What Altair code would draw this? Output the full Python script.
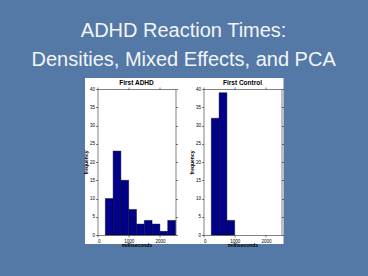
import altair as alt
import pandas as pd

title_lines = ["ADHD Reaction Times:", "Densities, Mixed Effects, and PCA"]
panel_titles = ["First ADHD", "First Control"]
bin_width = 250
adhd_bin_starts = [250, 500, 750, 1000, 1250, 1500, 1750, 2000, 2250]
adhd_counts = [10, 23, 15, 7, 3, 4, 3, 1, 4]
control_bin_starts = [250, 500, 750]
control_counts = [32, 39, 4]
x_ticks = [0, 1000, 2000]
y_ticks = [0, 5, 10, 15, 20, 25, 30, 35, 40]

W, H = 78, 146
BAR = "#000088"

xs = alt.Scale(domain=[0, 2500], nice=False)
ys = alt.Scale(domain=[0, 40], nice=False)


def panel(name, starts, counts, bg_x, bg_x2):
    df = pd.DataFrame({"start": starts,
                       "end": [s + bin_width for s in starts],
                       "count": counts})
    bg = alt.Chart(pd.DataFrame({"k": [0]})).mark_rect(
        color="white", clip=False).encode(
        x=alt.value(bg_x), x2=alt.value(bg_x2),
        y=alt.value(-11), y2=alt.value(155))
    bars = alt.Chart(df).mark_rect(
        color=BAR, stroke="black", strokeWidth=0.4).encode(
        x=alt.X("start:Q", scale=xs,
                axis=alt.Axis(values=x_ticks, title="milliseconds",
                              format="d", titlePadding=0, labelPadding=1,
                              zindex=2)),
        x2="end:Q",
        y=alt.Y("count:Q", scale=ys,
                axis=alt.Axis(values=y_ticks, title="frequency",
                              titlePadding=1, labelPadding=1, zindex=2)),
    )
    frame = alt.Chart(df).mark_rect(opacity=0).encode(
        x=alt.X("start:Q", scale=xs,
                axis=alt.Axis(values=x_ticks, orient="top", labels=False,
                              title=None, zindex=2, minExtent=0,
                              maxExtent=0)),
        x2="end:Q",
        y=alt.Y("count:Q", scale=ys,
                axis=alt.Axis(values=y_ticks, orient="right", labels=False,
                              title=None, zindex=2, minExtent=0,
                              maxExtent=0)),
    )
    return alt.layer(bg, bars, frame).resolve_axis(
        x="independent", y="independent").properties(
        width=W, height=H,
        title=alt.TitleParams(name, fontSize=6.5, font="Liberation Sans",
                              fontWeight="bold", color="black", offset=-8))


left = panel(panel_titles[0], adhd_bin_starts, adhd_counts, -12.5, 92.5)
right = panel(panel_titles[1], control_bin_starts, control_counts, -14, 80)

chart = alt.hconcat(left, right, spacing=28, bounds="flush").properties(
    title=alt.TitleParams(title_lines, fontSize=20, font="Liberation Sans",
                          fontWeight="normal", color="#f2f5f9",
                          anchor="middle", frame="bounds", offset=8,
                          lineHeight=29),
    background="#5479a6",
    padding={"left": 97.5, "top": 89, "right": 270.5, "bottom": 187},
    autosize="none",
).configure_view(
    stroke=None
).configure_axis(
    grid=False, domainColor="black", domainWidth=0.5,
    tickColor="black", tickWidth=0.5, tickSize=2,
    labelFontSize=4.5, labelColor="black", labelFont="Liberation Sans",
    titleFontSize=5, titleColor="black", titleFont="Liberation Sans",
    titleFontWeight="bold"
)

chart.save("out.html", embed_options={"renderer": "svg", "actions": False})
